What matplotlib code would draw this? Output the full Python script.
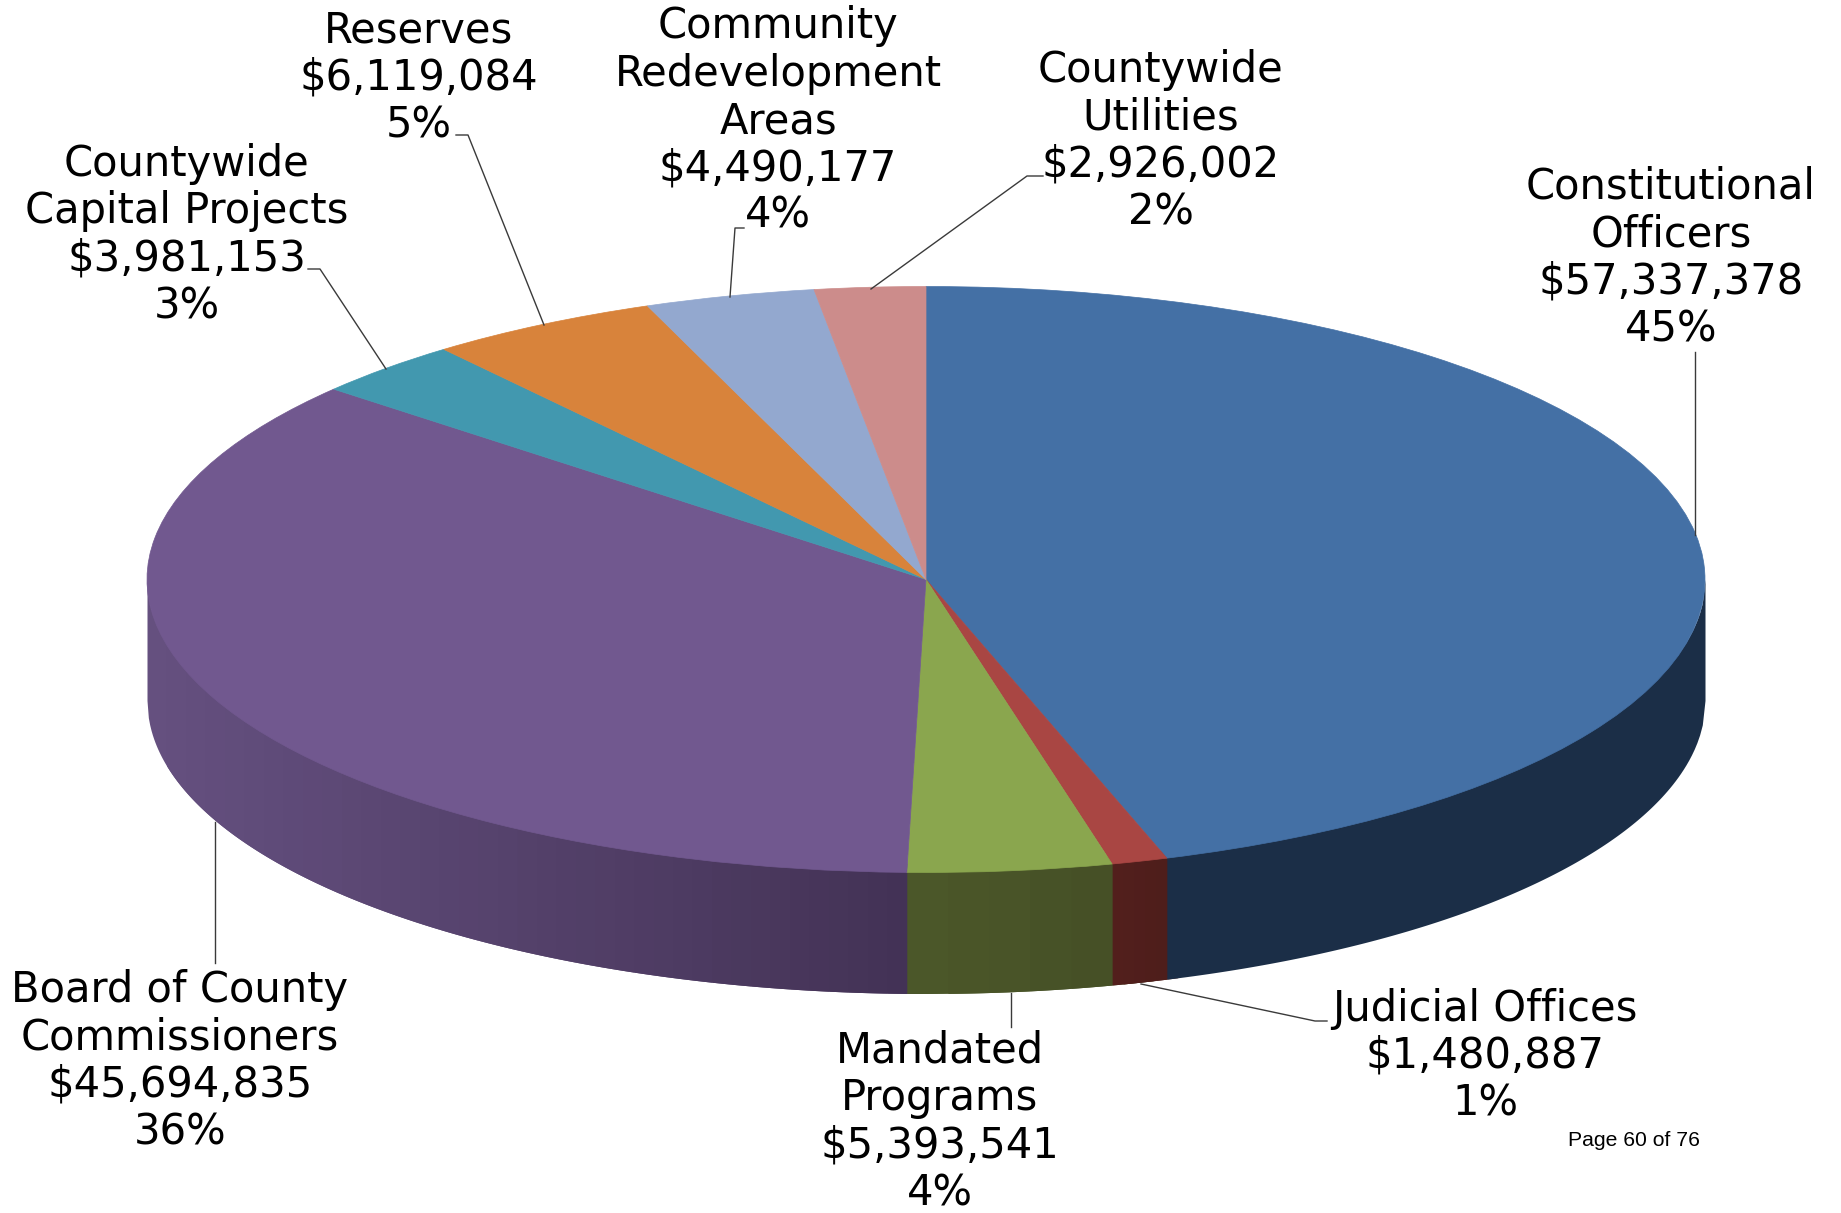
import numpy as np
import matplotlib
matplotlib.use("Agg")
import matplotlib.pyplot as plt
from matplotlib.colors import to_rgb

W, H = 1841, 1213

nomes = ["Constitutional\nOfficers", "Judicial Offices", "Mandated\nPrograms",
         "Board of County\nCommissioners", "Countywide\nCapital Projects", "Reserves",
         "Community\nRedevelopment\nAreas", "Countywide\nUtilities"]
valores = [57337378, 1480887, 5393541, 45694835, 3981153, 6119084, 4490177, 2926002]
percentuais = ["45%", "1%", "4%", "36%", "3%", "5%", "4%", "2%"]
cores = ["#4470A5", "#A94643", "#8AA64E", "#71588F", "#4298AF", "#D8833B", "#93A8CF", "#CC8C8B"]
# parede lateral: cor na ponta esquerda e na ponta direita de cada fatia
parede_esq = {3: "#655080", 2: "#4C5829", 1: "#521F1C", 0: "#1B2E47"}
parede_dir = {3: "#433255", 2: "#454F26", 1: "#4E1E1B", 0: "#1B2E47"}

# layout em pixels
cx, cy, rx, ry = 926, 579.5, 779, 293
prof = 121 / ry
pos_rotulos = [(1671, 258), (1485, 1056), (940, 1122), (180, 1061),
               (187, 235), (419, 78), (778, 121), (1161, 141)]
guias = [
    [(1695, 352), (1695, 535)],
    [(1141, 984), (1315, 1021), (1327, 1021)],
    [(1011, 993), (1011, 1027)],
    [(215, 822), (215, 963)],
    [(308, 269), (320, 269), (386, 369)],
    [(456, 135), (468, 135), (544, 325)],
    [(744, 228), (735, 228), (730, 297)],
    [(1043, 176), (1027, 176), (871, 289)],
]

fig = plt.figure(figsize=(W / 100, H / 100), dpi=100)
ax = fig.add_axes([0, 0, 1, 1])

wedges, _ = ax.pie(valores, colors=cores, startangle=90, counterclock=False,
                   wedgeprops={"linewidth": 0, "zorder": 3})
for w in wedges:
    w.set_edgecolor(w.get_facecolor())
    w.set_linewidth(0.5)
ax.set_aspect("auto")
ax.set_xlim(-cx / rx, (W - cx) / rx)
ax.set_ylim((cy - H) / ry, cy / ry)
ax.axis("off")

# parede lateral a partir dos mesmos angulos da pizza, da esquerda para a direita
frac = np.array(valores) / sum(valores)
fim = 90 - 360 * np.cumsum(frac)
ini = np.r_[90, fim[:-1]]
z = 1.0
for i in parede_esq:
    a0 = min(ini[i], 0)
    a1 = max(fim[i], -180)
    c0, c1 = np.array(to_rgb(parede_esq[i])), np.array(to_rgb(parede_dir[i]))
    x0, x1 = np.cos(np.radians(a1)), np.cos(np.radians(a0))
    bordas = np.linspace(x0, x1, 2 if i == 0 else (40 if i == 3 else 6))
    passo = bordas[1] - bordas[0]
    for a, b in zip(bordas[:-1], bordas[1:]):
        # cada faixa invade a proxima, que pinta por cima, para nao ficar fresta
        x = np.linspace(a, min(b + passo, 1), 200 if i == 0 else 30)
        y = -np.sqrt(np.clip(1 - x ** 2, 0, None))
        t = ((a + b) / 2 - x0) / (x1 - x0)
        cor = c0 + (c1 - c0) * t
        ax.fill_between(x, y - prof, y * 0.97, color=cor, lw=0, zorder=z)
        z += 0.01

over = fig.add_axes([0, 0, 1, 1])
over.set_xlim(0, W)
over.set_ylim(H, 0)
over.axis("off")
over.patch.set_alpha(0)

for g in guias:
    g = np.array(g)
    over.plot(g[:, 0], g[:, 1], color="#3A3A3A", lw=1.0, zorder=2)

for nome, v, p, (x, y) in zip(nomes, valores, percentuais, pos_rotulos):
    texto = f"{nome}\n${v:,}\n{p}"
    over.text(x, y, texto, ha="center", va="center", family="DejaVu Sans", fontsize=30,
              linespacing=1.165, color="black", zorder=4)

over.text(1634, 1140, "Page 60 of 76", ha="center", va="center",
          family="Liberation Sans", fontsize=15.2, color="black")

fig.savefig("out.png", dpi=100)
